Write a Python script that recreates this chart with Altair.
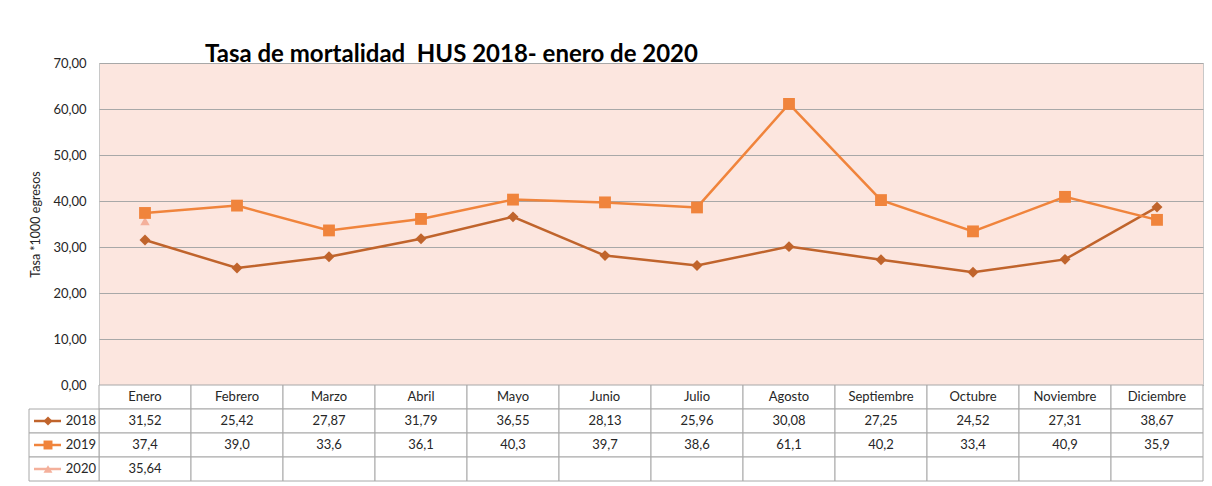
import altair as alt
import pandas as pd

months = ["Enero", "Febrero", "Marzo", "Abril", "Mayo", "Junio", "Julio",
          "Agosto", "Septiembre", "Octubre", "Noviembre", "Diciembre"]
v2018 = [31.52, 25.42, 27.87, 31.79, 36.55, 28.13, 25.96, 30.08, 27.25, 24.52, 27.31, 38.67]
v2019 = [37.4, 39.0, 33.6, 36.1, 40.3, 39.7, 38.6, 61.1, 40.2, 33.4, 40.9, 35.9]
v2020 = [35.64]
series = ["2018", "2019", "2020"]
decimals = [2, 1, 2]
y_ticks = [0, 10, 20, 30, 40, 50, 60, 70]

colors = ["#c0642c", "#f0843c", "#f4b09b"]
shapes = ["diamond", "square", "triangle-up"]
sizes = [120, 140, 90]
FONT = "Lato"
TXT = "#262626"
GRID = "#a8a8a8"

W, H = 1104, 322

recs = []
for s, vals in zip(series, [v2018, v2019, v2020]):
    for m, v in zip(months, vals):
        recs.append({"month": m, "serie": s, "value": v})
df = pd.DataFrame(recs)

x_enc = alt.X("month:N", sort=months,
              scale=alt.Scale(domain=months, type="point", padding=0.5), axis=None)
y_enc = alt.Y("value:Q",
              scale=alt.Scale(domain=[0, 70], nice=False),
              axis=alt.Axis(values=y_ticks,
                            labelExpr="replace(format(datum.value, '.2f'), '.', ',')",
                            title="Tasa *1000 egresos", grid=True, gridColor=GRID,
                            gridWidth=1, domain=False, ticks=False,
                            labelPadding=13, titlePadding=10,
                            labelFont=FONT, labelFontSize=13, labelColor=TXT,
                            titleFont=FONT, titleFontSize=12.5, titleColor=TXT,
                            titleFontWeight="normal"))
color_enc = alt.Color("serie:N", scale=alt.Scale(domain=series, range=colors), legend=None)
shape_enc = alt.Shape("serie:N", scale=alt.Scale(domain=series, range=shapes), legend=None)

layers = []
for s, sz in zip(series, sizes):
    sub = alt.Chart(df).transform_filter(alt.datum.serie == s)
    layers.append(sub.mark_line(strokeWidth=2.5).encode(x=x_enc, y=y_enc, color=color_enc))
    layers.append(sub.mark_point(filled=True, opacity=1, size=sz).encode(
        x=x_enc, y=y_enc, color=color_enc, shape=shape_enc))
# draw order: 2018, 2020 below 2019
order = [0, 1, 4, 5, 2, 3]
line_chart = alt.layer(*[layers[i] for i in order]).properties(
    width=W, height=H,
    view=alt.ViewBackground(fill="#fce6df", stroke="#c8c8c8", strokeWidth=1),
    title=alt.TitleParams(text="Tasa de mortalidad\u00a0 HUS 2018- enero de 2020",
                          anchor="start", frame="group", dx=106, offset=-29, fontSize=24,
                          font=FONT, fontWeight="bold", color="#000000",
                          baseline="alphabetic"),
)

# ---- data table below
row_keys = ["Mes"] + series
cells = []
for m in months:
    cells.append({"row": "Mes", "month": m, "label": m})
for s, vals, d in zip(series, [v2018, v2019, v2020], decimals):
    for i, m in enumerate(months):
        lab = (f"{vals[i]:.{d}f}".replace(".", ",")) if i < len(vals) else ""
        cells.append({"row": s, "month": m, "label": lab})
cdf = pd.DataFrame(cells)

tx = alt.X("month:N", sort=months,
           scale=alt.Scale(domain=months, paddingInner=0, paddingOuter=0), axis=None)
ty = alt.Y("row:N", sort=row_keys,
           scale=alt.Scale(domain=row_keys, paddingInner=0, paddingOuter=0), axis=None)
ty_c = alt.Y("row:N", sort=row_keys, bandPosition=0.5,
             scale=alt.Scale(domain=row_keys, paddingInner=0, paddingOuter=0), axis=None)

cell_rect = alt.Chart(cdf).mark_rect(fill="white", stroke=GRID, strokeWidth=1).encode(x=tx, y=ty)
cell_text = alt.Chart(cdf).mark_text(font=FONT, fontSize=13, color=TXT).encode(
    x=tx, y=ty_c, text="label:N")

kdf = pd.DataFrame({"row": series})
key_rect = alt.Chart(kdf).mark_rect(fill="white", stroke=GRID, strokeWidth=1).encode(
    x=alt.value(-70), x2=alt.value(0), y=ty)
key_rule = alt.Chart(kdf).mark_rule(strokeWidth=2.5).encode(
    x=alt.value(-65), x2=alt.value(-38), y=ty_c,
    color=alt.Color("row:N", scale=alt.Scale(domain=series, range=colors), legend=None))
key_pt = alt.Chart(kdf).mark_point(filled=True, opacity=1, size=80).encode(
    x=alt.value(-51), y=ty_c,
    color=alt.Color("row:N", scale=alt.Scale(domain=series, range=colors), legend=None),
    shape=alt.Shape("row:N", scale=alt.Scale(domain=series, range=shapes), legend=None))
key_txt = alt.Chart(kdf).mark_text(font=FONT, fontSize=13, color=TXT, align="right").encode(
    x=alt.value(-3), y=ty_c, text="row:N")

table = alt.layer(cell_rect, cell_text, key_rect, key_rule, key_pt, key_txt).properties(
    width=W, height=96,
    view=alt.ViewBackground(fill=None, stroke=None),
)

chart = alt.vconcat(line_chart, table, spacing=0, bounds="flush").resolve_scale(
    x="independent", y="independent", color="independent", shape="independent"
).properties(
    padding={"left": 20, "top": 34, "right": 0, "bottom": 0},
    background="white",
).configure_view(stroke=None)

chart.save("out.html", embed_options={"renderer": "svg", "actions": False})
